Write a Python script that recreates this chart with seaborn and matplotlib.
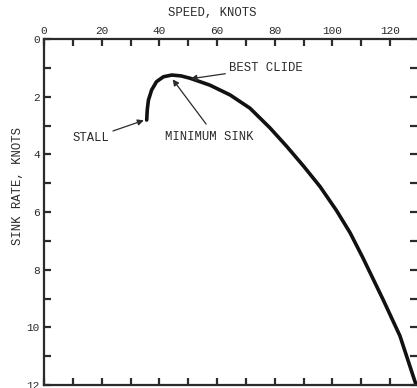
import matplotlib
matplotlib.use("Agg")
import matplotlib.pyplot as plt
import seaborn as sns
import pandas as pd
from matplotlib.ticker import MultipleLocator

speed = [35.6, 35.8, 36.2, 37.3, 39.0, 41.4, 44.3, 47.5, 50.6, 57.5, 64.5,
         71.4, 78.3, 84.1, 89.9, 95.7, 101.4, 106.1, 110.5, 117.6, 123.4,
         128.0, 129.0]
sink = [2.81, 2.45, 2.12, 1.77, 1.48, 1.31, 1.25, 1.28, 1.36, 1.60, 1.94,
        2.40, 3.08, 3.72, 4.40, 5.12, 5.95, 6.72, 7.58, 9.05, 10.30,
        11.70, 12.0]
x_ticks = [0, 20, 40, 60, 80, 100, 120]
y_ticks = [0, 2, 4, 6, 8, 10, 12]

df = pd.DataFrame({"speed": speed, "sink": sink})

sns.set_style("ticks")
plt.rcParams['font.family'] = ['Liberation Mono', 'DejaVu Sans Mono']
ink = "#2b2b2b"

fig = plt.figure(figsize=(4.17, 3.88), dpi=100)
ax = fig.add_axes([44/417, 3/388, (417-44)/417, 346/388])

sns.lineplot(data=df, x="speed", y="sink", sort=False, color="#111111",
             linewidth=2.6, ax=ax)
ax.lines[0].set_solid_joinstyle('round')

ax.set_xlim(0, 129.3)
ax.set_ylim(12, 0)
ax.set_xticks(x_ticks)
ax.set_yticks(y_ticks)
ax.xaxis.set_minor_locator(MultipleLocator(10))
ax.yaxis.set_minor_locator(MultipleLocator(1))
ax.tick_params(axis='x', which='both', top=True, bottom=True, labeltop=True,
               labelbottom=False, direction='in', length=5, width=1.6,
               color=ink, labelsize=8, labelcolor=ink, pad=2)
ax.tick_params(axis='y', which='both', left=True, right=True, labelleft=True,
               labelright=False, direction='in', length=5, width=1.6,
               color=ink, labelsize=8, labelcolor=ink, pad=3)
for s in ['top', 'left', 'bottom']:
    ax.spines[s].set_linewidth(1.6)
    ax.spines[s].set_color(ink)
ax.spines['right'].set_visible(False)

ax.set_xlabel("")
ax.set_ylabel("")
fig.text(212/417, 1 - 13/388, "SPEED, KNOTS", ha='center', va='center',
         fontsize=8.8, color=ink)
fig.text(18/417, 1 - 186/388, "SINK RATE, KNOTS", ha='center', va='center',
         rotation=90, fontsize=8.8, color=ink)

arrow = dict(arrowstyle='-|>', color=ink, lw=0.9, mutation_scale=9,
             shrinkA=0, shrinkB=0)
ax.annotate("BEST CLIDE", xy=(50.8, 1.38), xytext=(64.0, 1.0),
            fontsize=8.8, color=ink, ha='left', va='center', arrowprops=arrow)
ax.annotate("STALL", xy=(34.6, 2.82), xytext=(10.0, 3.45),
            fontsize=8.8, color=ink, ha='left', va='center', arrowprops=arrow)
ax.annotate("", xy=(44.6, 1.4), xytext=(56.2, 2.95), arrowprops=arrow)
ax.text(57.2, 3.4, "MINIMUM SINK", fontsize=8.8, color=ink, ha='center',
        va='center')

fig.savefig("out.png", dpi=100)
